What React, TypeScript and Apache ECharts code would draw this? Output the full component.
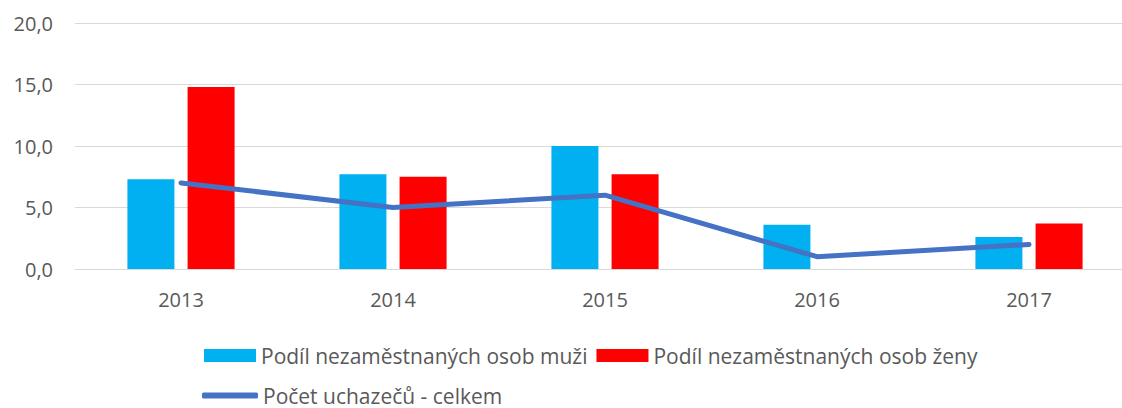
import React, { useEffect, useRef } from "react";
import * as echarts from "echarts";

const categories = ["2013", "2014", "2015", "2016", "2017"];
const muzi = [7.3, 7.7, 10.0, 3.6, 2.6];
const zeny = [14.8, 7.5, 7.7, 0, 3.7];
const celkem = [7.0, 5.0, 6.0, 1.0, 2.0];
const seriesNames = [
  "Podíl nezaměstnaných osob muži",
  "Podíl nezaměstnaných osob ženy",
  "Počet uchazečů - celkem",
];
const yTicks = { min: 0, max: 20, interval: 5 };

const FONT = "'Open Sans', 'Noto Sans', sans-serif";
const TEXT_COLOR = "#595959";

export default function App() {
  const ref = useRef<HTMLDivElement>(null);
  useEffect(() => {
    if (!ref.current) return;
    const chart = echarts.init(ref.current, null, { renderer: "svg" });
    chart.setOption({
      animation: false,
      textStyle: { fontFamily: FONT },
      grid: { left: 75, top: 23, width: 1060, bottom: 139, containLabel: false },
      legend: [
        {
          data: [seriesNames[0], seriesNames[1]],
          left: 199,
          top: 340,
          itemWidth: 52,
          itemHeight: 13,
          itemGap: 9,
          icon: "rect",
          textStyle: { fontFamily: FONT, fontSize: 21, color: TEXT_COLOR },
        },
        {
          data: [seriesNames[2]],
          left: 197,
          top: 380,
          itemWidth: 56,
          itemHeight: 6,
          icon: "roundRect",
          textStyle: { fontFamily: FONT, fontSize: 21, color: TEXT_COLOR },
        },
      ],
      xAxis: {
        type: "category",
        data: categories,
        axisLine: { show: true, lineStyle: { color: "#D9D9D9", width: 1 } },
        axisTick: { show: false },
        axisLabel: { color: TEXT_COLOR, fontSize: 20, margin: 20, fontFamily: FONT },
      },
      yAxis: {
        type: "value",
        min: yTicks.min,
        max: yTicks.max,
        interval: yTicks.interval,
        axisLine: { show: false },
        axisTick: { show: false },
        splitLine: { lineStyle: { color: "#D9D9D9", width: 1 } },
        axisLabel: {
          color: TEXT_COLOR,
          fontSize: 20,
          margin: 22,
          fontFamily: FONT,
          formatter: (v: number) => v.toFixed(1).replace(".", ","),
        },
      },
      series: [
        {
          name: seriesNames[0],
          type: "bar",
          data: muzi,
          barWidth: 47,
          barGap: "28%",
          itemStyle: { color: "#00B0F0" },
        },
        {
          name: seriesNames[1],
          type: "bar",
          data: zeny,
          barWidth: 47,
          barGap: "28%",
          itemStyle: { color: "#FF0000" },
        },
        {
          name: seriesNames[2],
          type: "line",
          data: celkem,
          showSymbol: false,
          symbol: "none",
          lineStyle: { color: "#4472C4", width: 5, cap: "round", join: "round" },
          itemStyle: { color: "#4472C4" },
        },
      ],
    });
    return () => chart.dispose();
  }, []);
  return (
    <div
      style={{
        position: "fixed",
        left: 0,
        top: 0,
        width: 1122,
        height: 408,
        overflow: "hidden",
        background: "#fff",
      }}
    >
      <div ref={ref} style={{ width: 1140, height: 408 }} />
    </div>
  );
}
